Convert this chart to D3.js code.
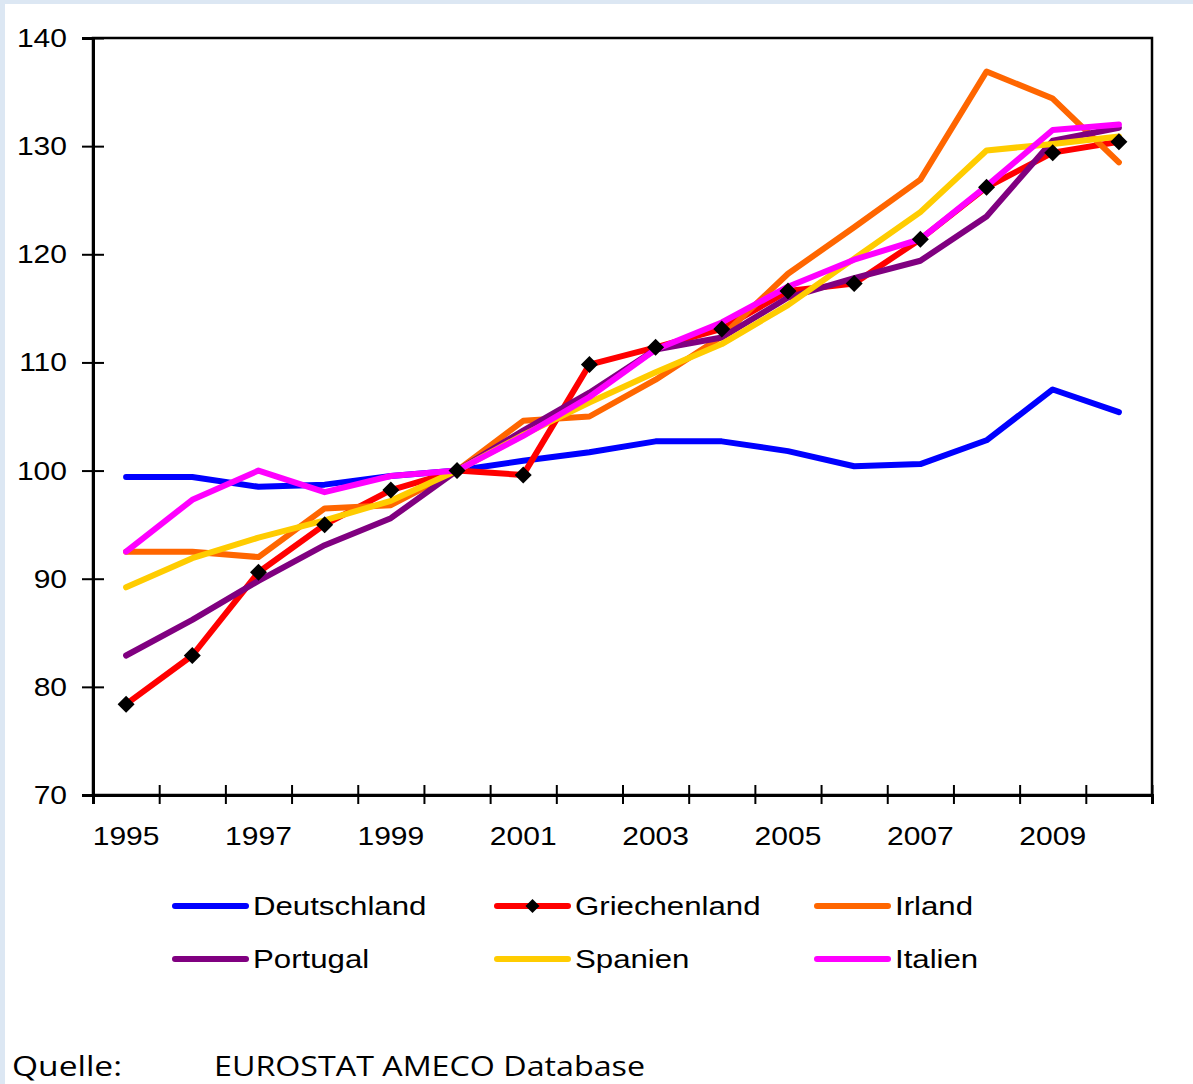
<!DOCTYPE html>
<html>
<head>
<meta charset="utf-8">
<script src="https://cdn.jsdelivr.net/npm/d3@7"></script>
<style>
  html, body { margin: 0; padding: 0; background: #ffffff; }
  svg { display: block; }
</style>
</head>
<body>
<svg id="chart" width="1193" height="1084"></svg>
<script>
// Index values (2000 = 100), 1995–2010
const years = [1995, 1996, 1997, 1998, 1999, 2000, 2001, 2002, 2003, 2004, 2005, 2006, 2007, 2008, 2009, 2010];
const yearLabels = [1995, 1997, 1999, 2001, 2003, 2005, 2007, 2009];
const yTicks = [70, 80, 90, 100, 110, 120, 130, 140];

const deutschland  = [99.4, 99.4, 98.5, 98.7, 99.5, 100, 100.9, 101.7, 102.7, 102.7, 101.8, 100.4, 100.6, 102.8, 107.5, 105.4];
const griechenland = [78.4, 82.9, 90.6, 95.0, 98.2, 100, 99.6, 109.8, 111.4, 113.1, 116.6, 117.3, 121.4, 126.2, 129.4, 130.4];
const irland       = [92.5, 92.5, 92.0, 96.5, 96.8, 100, 104.6, 105.0, 108.4, 112.4, 118.2, 122.5, 126.9, 136.9, 134.4, 128.5];
const portugal     = [82.9, 86.2, 89.8, 93.1, 95.6, 100, 103.7, 107.2, 111.2, 112.3, 116.0, 117.8, 119.4, 123.5, 130.5, 131.7];
const spanien      = [89.2, 91.9, 93.8, 95.4, 97.2, 100, 103.3, 106.3, 109.1, 111.7, 115.3, 119.6, 123.9, 129.6, 130.2, 130.9];
const italien      = [92.5, 97.3, 100.0, 98.0, 99.5, 100, 103.2, 106.8, 111.2, 113.7, 117.0, 119.5, 121.4, 126.3, 131.5, 132.0];

const seriesNames  = ["Deutschland", "Griechenland", "Irland", "Portugal", "Spanien", "Italien"];
const seriesValues = [deutschland, griechenland, irland, portugal, spanien, italien];
const seriesColors = ["#0000ff", "#ff0000", "#ff6600", "#800080", "#ffcc00", "#ff00ff"];
const markerSeries = "Griechenland";

const svg = d3.select("#chart");
const W = 1193, H = 1084;
const plot = { left: 93, right: 1152, top: 38, bottom: 795 };
const textFont = "'Liberation Sans', Arial, sans-serif";
const stretch = 1.2;

// page frame: pale blue edge on the left and top
svg.append("rect").attr("x", 0).attr("y", 0).attr("width", W).attr("height", H).attr("fill", "#dce7f3");
svg.append("rect").attr("x", 5).attr("y", 4).attr("width", W - 5).attr("height", H - 4).attr("fill", "#ffffff");

const x = d3.scaleLinear().domain([years[0] - 0.5, years[years.length - 1] + 0.5]).range([plot.left, plot.right]);
const y = d3.scaleLinear().domain([70, 140]).range([plot.bottom, plot.top]);

// plot border
svg.append("rect")
  .attr("x", plot.left).attr("y", plot.top)
  .attr("width", plot.right - plot.left).attr("height", plot.bottom - plot.top)
  .attr("fill", "none").attr("stroke", "#000").attr("stroke-width", 2.5);

// y axis: ticks cross the axis line
const yAxis = svg.append("g")
  .attr("transform", `translate(${plot.left},0)`)
  .call(d3.axisLeft(y).tickValues(yTicks).tickSize(11).tickFormat(""));
yAxis.select(".domain").attr("stroke", "#000").attr("stroke-width", 3);
yAxis.selectAll(".tick line").attr("x1", 11).attr("x2", -11).attr("stroke", "#000").attr("stroke-width", 2);

yTicks.forEach(v => {
  svg.append("text")
    .attr("transform", `translate(67,${y(v) + 9}) scale(${stretch},1)`)
    .attr("text-anchor", "end")
    .attr("font-family", textFont).attr("font-size", 25).attr("fill", "#000")
    .text(v);
});

// x axis: ticks at category boundaries, labels on every other year
const boundaries = d3.range(years[0] - 0.5, years[years.length - 1] + 1, 1);
const xAxis = svg.append("g")
  .attr("transform", `translate(0,${plot.bottom})`)
  .call(d3.axisBottom(x).tickValues(boundaries).tickSize(9).tickFormat(""));
xAxis.select(".domain").attr("stroke", "#000").attr("stroke-width", 3);
xAxis.selectAll(".tick line").attr("y1", -10).attr("y2", 9).attr("stroke", "#000").attr("stroke-width", 2);

yearLabels.forEach(v => {
  svg.append("text")
    .attr("transform", `translate(${x(v)},${plot.bottom + 50}) scale(${stretch},1)`)
    .attr("text-anchor", "middle")
    .attr("font-family", textFont).attr("font-size", 25).attr("fill", "#000")
    .text(v);
});

// lines
const line = d3.line().x((d, i) => x(years[i])).y(d => y(d));
const linesG = svg.append("g");
seriesValues.forEach((vals, k) => {
  linesG.append("path")
    .datum(vals)
    .attr("d", line)
    .attr("fill", "none")
    .attr("stroke", seriesColors[k])
    .attr("stroke-width", 6)
    .attr("stroke-linejoin", "round")
    .attr("stroke-linecap", "round");
});

// diamond markers for Griechenland, drawn above all lines
const diamond = (cx, cy, r) => `M${cx},${cy - r}L${cx + r},${cy}L${cx},${cy + r}L${cx - r},${cy}Z`;
const gVals = seriesValues[seriesNames.indexOf(markerSeries)];
svg.append("g").selectAll("path")
  .data(gVals)
  .join("path")
  .attr("d", (d, i) => diamond(x(years[i]), y(d), 8.5))
  .attr("fill", "#000");

// legend
const legendCols = [175, 497, 817];
const legendRows = [906, 959];
seriesNames.forEach((name, k) => {
  const lx = legendCols[k % 3];
  const ly = legendRows[Math.floor(k / 3)];
  const g = svg.append("g");
  g.append("line")
    .attr("x1", lx).attr("x2", lx + 71).attr("y1", ly).attr("y2", ly)
    .attr("stroke", seriesColors[k]).attr("stroke-width", 6).attr("stroke-linecap", "round");
  if (name === markerSeries) {
    g.append("path").attr("d", diamond(lx + 35.5, ly, 7)).attr("fill", "#000");
  }
  g.append("text")
    .attr("transform", `translate(${lx + 78},${ly + 9}) scale(${stretch},1)`)
    .attr("font-family", textFont).attr("font-size", 26).attr("fill", "#000")
    .text(name);
});

// source line
const srcFont = "'Open Sans', Lato, sans-serif";
svg.append("text")
  .attr("x", 12).attr("y", 1076)
  .attr("font-family", srcFont).attr("font-size", 28).attr("fill", "#000")
  .attr("textLength", 110).attr("lengthAdjust", "spacingAndGlyphs")
  .text("Quelle:");
svg.append("text")
  .attr("x", 214).attr("y", 1076)
  .attr("font-family", srcFont).attr("font-size", 28).attr("fill", "#000")
  .attr("textLength", 431).attr("lengthAdjust", "spacingAndGlyphs")
  .text("EUROSTAT AMECO Database");
</script>
</body>
</html>
